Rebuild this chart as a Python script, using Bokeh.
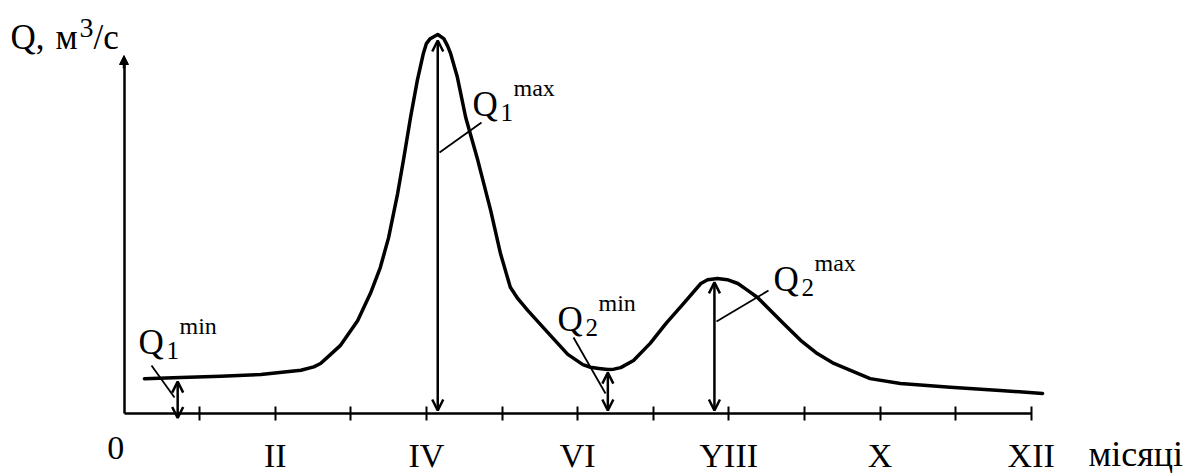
import numpy as np
from bokeh.plotting import figure
from bokeh.models import (Range1d, LinearAxis, FixedTicker, Arrow, OpenHead,
                          NormalHead, ColumnDataSource)
from bokeh.core.properties import value
from bokeh.embed import file_html
from bokeh.resources import INLINE

# ---------------- data ----------------
months = [0.27, 0.75, 1.28, 1.81, 2.34, 2.51, 2.60, 2.69, 2.86, 3.09,
          3.26, 3.39, 3.50, 3.62, 3.70, 3.79, 3.88, 3.96, 4.00, 4.05,
          4.15, 4.23, 4.28, 4.32, 4.41, 4.52, 4.68, 4.85, 4.98, 5.11,
          5.21, 5.34, 5.64, 5.87, 6.07, 6.17, 6.28, 6.40, 6.48, 6.57,
          6.74, 6.96, 7.17, 7.40, 7.63, 7.72, 7.85, 7.98, 8.12, 8.25,
          8.38, 8.72, 8.95, 9.17, 9.39, 9.61, 9.87, 10.27, 10.93, 11.59,
          12.15]
discharge = [9.2, 9.5, 9.8, 10.3, 11.4, 12.3, 13.2, 14.8, 17.9, 24.5,
             31.7, 38.5, 46.4, 58.1, 67.3, 78.1, 87.9, 95.0, 97.6, 98.9,
             100.0, 98.9, 97.0, 95.0, 88.7, 78.1, 66.8, 53.6, 42.2, 33.3,
             30.3, 27.2, 20.6, 15.6, 12.9, 12.2, 11.9, 11.6, 11.7, 12.1,
             14.0, 18.5, 23.8, 29.0, 34.3, 35.3, 35.6, 35.3, 34.3, 32.5,
             30.6, 23.8, 19.3, 15.8, 13.2, 11.4, 9.2, 7.9, 6.9, 6.1,
             5.3]

tick_months = [1, 2, 3, 4, 5, 6, 7, 8, 9, 10, 11, 12]
label_months = [2, 4, 6, 8, 10, 12]
label_texts = ["II", "IV", "VI", "YIII", "X", "XII"]
origin_label_month = -0.11
origin_label_text = "0"

arrow_months = [0.71, 4.15, 6.40, 7.81]
arrow_low = [-1.2, 0.8, 0.8, 0.8]
arrow_high = [8.4, 98.4, 10.8, 34.6]
arrow_sub = ["1", "1", "2", "2"]
arrow_sup = ["min", "max", "min", "max"]

# ---------------- pixel helpers (layout only) ----------------
X0, DXPX = 123.5, 75.6      # px of month 0, px per month
Y0, DYPX = 413.0, 3.79      # px of Q=0, px per unit
def mx(px):
    return (px - X0) / DXPX
def qy(py):
    return (Y0 - py) / DYPX

W, H = 1191, 474
FONT = value("Liberation Serif")
BIG, SMALL = 10, 8          # baseline correction for text glyphs (px)

p = figure(width=W, height=H,
           x_range=Range1d(mx(0), mx(W)),
           y_range=Range1d(qy(H), qy(0)),
           x_axis_type=None, y_axis_type=None,
           toolbar_location=None, output_backend="svg",
           min_border=0, outline_line_color=None)
p.background_fill_color = "white"
p.border_fill_color = "white"

# ---------------- axes ----------------
ax_ticks = LinearAxis(fixed_location=0, bounds=(0, 12),
                      ticker=FixedTicker(ticks=tick_months),
                      major_label_overrides={m: "" for m in tick_months},
                      major_label_text_font_size="0px",
                      major_tick_in=7, major_tick_out=7,
                      major_tick_line_width=2, major_tick_line_color="black",
                      axis_line_width=2.5, axis_line_color="black")
p.add_layout(ax_ticks, "below")

label_style = dict(fixed_location=0, major_tick_in=0, major_tick_out=0,
                   axis_line_color=None, major_label_standoff=23,
                   major_label_text_font="Liberation Serif",
                   major_label_text_font_size="34px",
                   major_label_text_color="black")
ax_labels = LinearAxis(ticker=FixedTicker(ticks=label_months),
                       major_label_overrides=dict(zip(label_months, label_texts)),
                       **label_style)
p.add_layout(ax_labels, "below")
ax_origin = LinearAxis(ticker=FixedTicker(ticks=[origin_label_month]),
                       major_label_overrides={origin_label_month: origin_label_text},
                       **label_style)
p.add_layout(ax_origin, "below")

ax_y = LinearAxis(fixed_location=0, bounds=(0, qy(62)),
                  ticker=FixedTicker(ticks=[]),
                  major_label_text_font_size="0px",
                  major_tick_in=0, major_tick_out=0,
                  axis_line_width=2.5, axis_line_color="black")
p.add_layout(ax_y, "left")

p.add_layout(Arrow(end=NormalHead(size=9, fill_color="black", line_color="black", line_width=1),
                   x_start=0, y_start=qy(68), x_end=0, y_end=qy(55),
                   line_width=2.5, line_color="black"))

# ---------------- hydrograph ----------------
p.line(months, discharge, line_width=3.5, line_color="black",
       line_join="round", line_cap="round")

# ---------------- double arrows ----------------
src = ColumnDataSource(dict(x0=arrow_months, y0=arrow_low,
                            x1=arrow_months, y1=arrow_high))
p.add_layout(Arrow(start=OpenHead(size=11, line_width=2.5, line_color="black"),
                   end=OpenHead(size=11, line_width=2.5, line_color="black"),
                   source=src, x_start="x0", y_start="y0", x_end="x1", y_end="y1",
                   line_width=2.5, line_color="black"))

# leader lines (px pairs)
lead = [((151, 365), (174, 397)),
        ((439, 152), (481, 122)),
        ((573, 337), (605, 393)),
        ((716, 321), (768, 290))]
p.segment(x0=[mx(a[0]) for a, b in lead], y0=[qy(a[1]) for a, b in lead],
          x1=[mx(b[0]) for a, b in lead], y1=[qy(b[1]) for a, b in lead],
          line_width=1.8, line_color="black")

# labels Q_i^{min/max}: Q left x and Q top (px)
lab_pos = [(138, 328), (472, 90), (557, 305), (773, 265)]
p.text(x=[mx(x) for x, t in lab_pos], y=[qy(t + 24 - BIG) for x, t in lab_pos],
       text=["Q"] * 4, text_font=FONT, text_font_size="35px",
       text_baseline="alphabetic", text_align="left", text_color="black")
p.text(x=[mx(x + 28) for x, t in lab_pos], y=[qy(t + 30 - SMALL) for x, t in lab_pos],
       text=arrow_sub, text_font=FONT, text_font_size="25px",
       text_baseline="alphabetic", text_align="left", text_color="black")
p.text(x=[mx(x + 41) for x, t in lab_pos], y=[qy(t + 5 - SMALL) for x, t in lab_pos],
       text=arrow_sup, text_font=FONT, text_font_size="24px",
       text_baseline="alphabetic", text_align="left", text_color="black")

# axis titles
p.text(x=[mx(10), mx(55), mx(93)], y=[qy(47 - BIG)] * 3,
       text=["Q,", "м", "/с"], text_font=FONT, text_font_size="35px",
       text_baseline="alphabetic", text_align="left", text_color="black")
p.text(x=[mx(79)], y=[qy(35 - SMALL)], text=["3"], text_font=FONT, text_font_size="28px",
       text_baseline="alphabetic", text_align="left", text_color="black")
p.text(x=[mx(1088)], y=[qy(463 - BIG)], text=["місяці"], text_font=FONT,
       text_font_size="36px", text_baseline="alphabetic", text_align="left",
       text_color="black")

open("out.html", "w").write(file_html(p, INLINE))
